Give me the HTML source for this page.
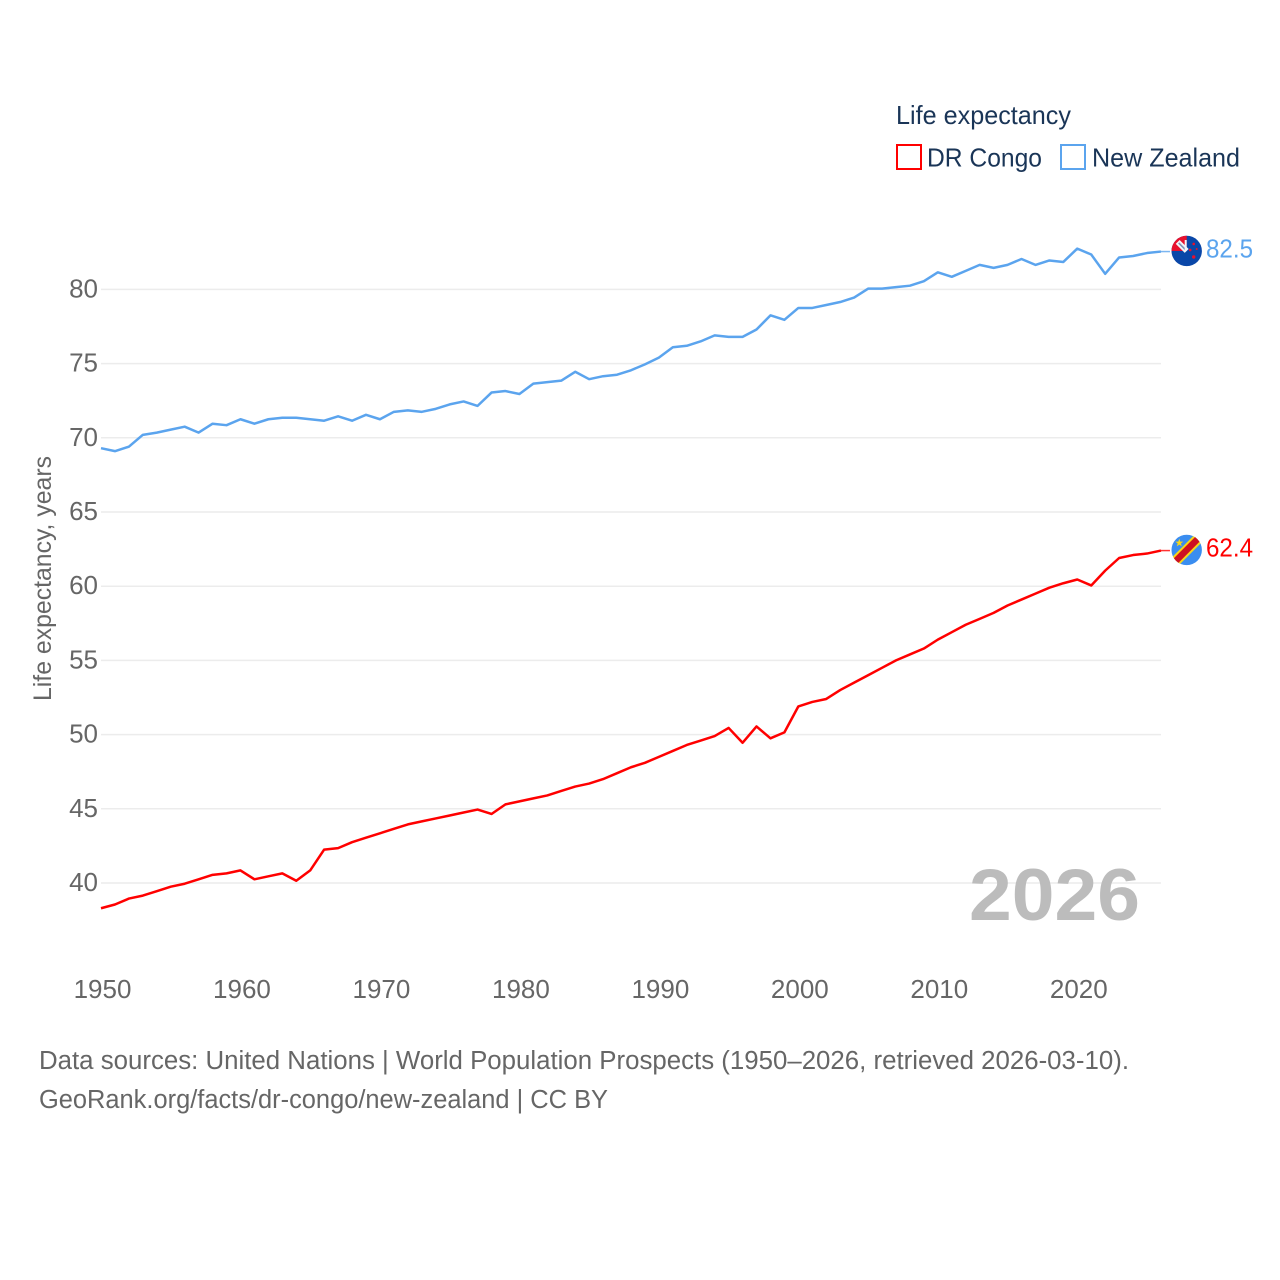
<!DOCTYPE html>
<html lang="en">
<head>
<meta charset="utf-8">
<title>Life expectancy: DR Congo and New Zealand</title>
<style>
  html, body { margin: 0; padding: 0; background: #ffffff; }
  svg { display: block; font-family: "Liberation Sans", "DejaVu Sans", sans-serif; }
</style>
</head>
<body>
<svg id="chart" xmlns="http://www.w3.org/2000/svg" width="1280" height="1280" viewBox="0 0 1280 1280">
  <defs>
    <clipPath id="flag-clip"><circle cx="0" cy="0" r="15.2"></circle></clipPath>
  </defs>
  <g id="grid"></g>
  <g id="series"></g>
  <g id="yticks"></g>
  <g id="xticks"></g>
  <text transform="translate(51 701) rotate(-90)" font-size="25" fill="#666666" textLength="245" lengthAdjust="spacingAndGlyphs">Life expectancy, years</text>

  <g>
    <text x="896" y="124" font-size="26" fill="#1a3557" textLength="175" lengthAdjust="spacingAndGlyphs">Life expectancy</text>
    <g>
      <rect x="897" y="145" width="24" height="24" fill="none" stroke="#ff0000" stroke-width="2"></rect>
      <text x="927" y="166.5" font-size="26" fill="#1a3557" textLength="115" lengthAdjust="spacingAndGlyphs">DR Congo</text>
    </g>
    <g>
      <rect x="1061" y="145" width="24" height="24" fill="none" stroke="#5ba4ee" stroke-width="2"></rect>
      <text x="1092" y="166.5" font-size="26" fill="#1a3557" textLength="148" lengthAdjust="spacingAndGlyphs">New Zealand</text>
    </g>
  </g>

  <g id="flag-nz">
    <g clip-path="url(#flag-clip)">
      <rect x="-16" y="-16" width="32" height="32" fill="#0a47a8"></rect>
      <rect x="-16" y="-16" width="16" height="16" fill="#e8112d"></rect>
      <path d="M-9 -9 L0 0" stroke="#f2f4f8" stroke-width="5.5"></path>
      <path d="M-8 -8 L-1 -1" stroke="#7f93b8" stroke-width="1.6"></path>
      <path d="M-2 -11 L0 -11 L0 0 L-2 0 Z" fill="#f2f4f8"></path>
      <circle cx="3.5" cy="-1" r="1.3" fill="#e8112d"></circle>
      <circle cx="7" cy="-7" r="1.3" fill="#e8112d"></circle>
      <circle cx="10" cy="-2" r="1" fill="#e8112d"></circle>
      <circle cx="7" cy="6" r="1.7" fill="#e8112d"></circle>
    </g>
  </g>
  <g id="flag-cd">
    <g clip-path="url(#flag-clip)">
      <rect x="-16" y="-16" width="32" height="32" fill="#3a8df0"></rect>
      <path d="M-16 16 L16 -16" stroke="#f7d618" stroke-width="10.5"></path>
      <path d="M-16 16 L16 -16" stroke="#ce1021" stroke-width="6.5"></path>
      <polygon points="-7.4,-11.3 -6.4,-8.4 -3.4,-8.4 -5.8,-6.5 -4.9,-3.6 -7.4,-5.4 -9.9,-3.6 -9,-6.5 -11.4,-8.4 -8.4,-8.4" fill="#f7d618"></polygon>
    </g>
  </g>

  <text x="969" y="920" font-size="73" font-weight="700" fill="#bcbcbc" textLength="171" lengthAdjust="spacingAndGlyphs">2026</text>

  <text x="39" y="1069" font-size="25.5" fill="#666666" textLength="1090" lengthAdjust="spacingAndGlyphs">Data sources: United Nations | World Population Prospects (1950–2026, retrieved 2026-03-10).</text>
  <text x="39" y="1108" font-size="25.5" fill="#666666" textLength="569" lengthAdjust="spacingAndGlyphs">GeoRank.org/facts/dr-congo/new-zealand | CC BY</text>
</svg>

<script>
const startYear = 1950;
const yTickLabels = [40, 45, 50, 55, 60, 65, 70, 75, 80];
const xTickLabels = [1950, 1960, 1970, 1980, 1990, 2000, 2010, 2020];
const newZealandValues = [
  69.3, 69.1, 69.4, 70.2, 70.35, 70.55, 70.75, 70.35, 70.95, 70.85,
  71.25, 70.95, 71.25, 71.35, 71.35, 71.25, 71.15, 71.45, 71.15, 71.55,
  71.25, 71.75, 71.85, 71.75, 71.95, 72.25, 72.45, 72.15, 73.05, 73.15,
  72.95, 73.65, 73.75, 73.85, 74.45, 73.95, 74.15, 74.25, 74.55, 74.95,
  75.4, 76.1, 76.2, 76.5, 76.9, 76.8, 76.8, 77.3, 78.25, 77.95,
  78.75, 78.75, 78.95, 79.15, 79.45, 80.05, 80.05, 80.15, 80.25, 80.55,
  81.15, 80.85, 81.25, 81.65, 81.45, 81.65, 82.05, 81.65, 81.95, 81.85,
  82.75, 82.35, 81.05, 82.15, 82.25, 82.45, 82.55
];
const drCongoValues = [
  38.3, 38.55, 38.95, 39.15, 39.45, 39.75, 39.95, 40.25, 40.55, 40.65,
  40.85, 40.25, 40.45, 40.65, 40.15, 40.85, 42.25, 42.35, 42.75, 43.05,
  43.35, 43.65, 43.95, 44.15, 44.35, 44.55, 44.75, 44.95, 44.65, 45.3,
  45.5, 45.7, 45.9, 46.2, 46.5, 46.7, 47.0, 47.4, 47.8, 48.1,
  48.5, 48.9, 49.3, 49.6, 49.9, 50.45, 49.45, 50.55, 49.75, 50.15,
  51.9, 52.2, 52.4, 53.0, 53.5, 54.0, 54.5, 55.0, 55.4, 55.8,
  56.4, 56.9, 57.4, 57.8, 58.2, 58.7, 59.1, 59.5, 59.9, 60.2,
  60.45, 60.05, 61.05, 61.9, 62.1, 62.2, 62.4
];
const newZealandLabel = "82.5";
const drCongoLabel = "62.4";

const NS = "http://www.w3.org/2000/svg";
function xScale(year) { return 101 + (year - 1950) * 13.947; }
function yScale(value) { return 883 - (value - 40) * 14.84; }
function make(tag, attrs, parent) {
  const el = document.createElementNS(NS, tag);
  for (const key in attrs) el.setAttribute(key, attrs[key]);
  parent.appendChild(el);
  return el;
}

const lastYear = startYear + newZealandValues.length - 1;
const gridGroup = document.getElementById("grid");
const yGroup = document.getElementById("yticks");
const xGroup = document.getElementById("xticks");
const seriesGroup = document.getElementById("series");
const svgRoot = document.getElementById("chart");

yTickLabels.forEach(function (tick) {
  const line = make("line", { x1: xScale(startYear), x2: xScale(lastYear), y1: yScale(tick), y2: yScale(tick), stroke: "#ececec", "stroke-width": 1.5 }, gridGroup);
  
  
  const label = make("text", { x: 98, y: yScale(tick) + 8, "text-anchor": "end", "font-size": 26, fill: "#666666" }, yGroup);
  
  
  label.textContent = String(tick);
});

xTickLabels.forEach(function (tick) {
  const label = make("text", { x: xScale(tick) + 1.5, y: 998, "text-anchor": "middle", "font-size": 26, fill: "#666666" }, xGroup);
  
  
  label.textContent = String(tick);
});

function drawSeries(values, color) {
  const pts = values.map(function (v, i) { return xScale(startYear + i).toFixed(2) + "," + yScale(v).toFixed(2); });
  const lastY = yScale(values[values.length - 1]).toFixed(2);
  const path = make("polyline", { points: pts.join(" "), fill: "none", stroke: color, "stroke-width": 2.5, "stroke-linejoin": "round" }, seriesGroup);
  
  
  const stub = make("line", { x1: xScale(lastYear), x2: xScale(lastYear) + 9, y1: lastY, y2: lastY, stroke: color, "stroke-width": 1.5, opacity: 0.8 }, seriesGroup);
  
  
}
drawSeries(newZealandValues, "#5ba4ee");
drawSeries(drCongoValues, "#ff0000");

function placeEnd(flagId, values, labelText, color) {
  const y = yScale(values[values.length - 1]);
  document.getElementById(flagId).setAttribute("transform", "translate(1186.7 " + (y - 0.6).toFixed(2) + ")");
  const label = make("text", { x: 1206, y: y + 6, "font-size": 26, fill: color, textLength: 47, lengthAdjust: "spacingAndGlyphs" }, svgRoot);
  
  
  label.textContent = labelText;
}
placeEnd("flag-nz", newZealandValues, newZealandLabel, "#5ba4ee");
placeEnd("flag-cd", drCongoValues, drCongoLabel, "#ff0000");
</script>
</body>
</html>
